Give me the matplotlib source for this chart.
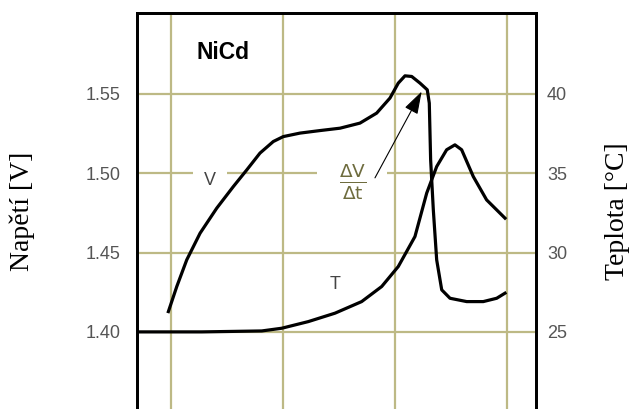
import numpy as np
import matplotlib.pyplot as plt

# napeti clanku (leva osa)
v_x = [0.979, 1.054, 1.143, 1.262, 1.411, 1.559, 1.679, 1.797, 1.916, 2.005,
       2.154, 2.333, 2.512, 2.690, 2.839, 2.958, 3.032, 3.092, 3.152, 3.226,
       3.291, 3.309, 3.321, 3.345, 3.375, 3.420, 3.494, 3.643, 3.791, 3.911,
       3.985]
v_y = [1.4128, 1.4286, 1.4454, 1.4622, 1.4780, 1.4916, 1.5021, 1.5127, 1.5200,
       1.5231, 1.5253, 1.5269, 1.5284, 1.5316, 1.5379, 1.5474, 1.5568, 1.5614,
       1.5610, 1.5568, 1.5526, 1.5442, 1.5085, 1.4769, 1.4454, 1.4265, 1.4212,
       1.4191, 1.4191, 1.4212, 1.4244]

# teplota (prava osa)
t_x = [0.70, 1.277, 1.813, 1.991, 2.229, 2.467, 2.705, 2.884, 3.032, 3.181,
       3.286, 3.375, 3.464, 3.538, 3.598, 3.702, 3.821, 3.985]
t_y = [25.0, 25.0, 25.06, 25.23, 25.65, 26.18, 26.91, 27.86, 29.12, 31.01,
       33.75, 35.42, 36.48, 36.79, 36.48, 34.79, 33.32, 32.17]

v_ticks = [1.40, 1.45, 1.50, 1.55]
t_ticks = [25, 30, 35, 40]
x_grid = [1, 2, 3, 4]

grid_col = "#bdb985"
tick_col = "#555555"

fig = plt.figure(figsize=(6.3, 4.09), dpi=100)
ax = fig.add_axes([0.2175, 0.0, 0.6333, 0.9682])
ax2 = ax.twinx()

ax.set_xlim(0.699, 4.262)
ax.set_ylim(1.3514, 1.601)
ax2.set_ylim(20.14, 45.1)

for x in x_grid:
    ax.axvline(x, color=grid_col, lw=1.6, zorder=0.5)
for y in v_ticks:
    ax.axhline(y, color=grid_col, lw=1.6, zorder=0.5)

ax.plot(v_x, v_y, color="black", lw=2.3, zorder=3, solid_joinstyle="round")
ax2.plot(t_x, t_y, color="black", lw=2.3, zorder=3, solid_joinstyle="round")

ax.set_xticks([])
ax.set_yticks(v_ticks)
ax.set_yticklabels(["%.2f" % v for v in v_ticks])
ax2.set_yticks(t_ticks)
for a in (ax, ax2):
    a.tick_params(axis="y", length=0, labelsize=13, labelcolor=tick_col)
    a.spines["bottom"].set_visible(False)
    for s in ("left", "right", "top"):
        a.spines[s].set_linewidth(2.0)
    for lab in a.get_yticklabels():
        lab.set_family("Liberation Sans")
ax.tick_params(axis="y", pad=12)
ax2.tick_params(axis="y", pad=8)

ax.set_ylabel("Napětí [V]", family="Liberation Serif", fontsize=20, labelpad=36)
ax2.set_ylabel("Teplota [°C]", family="Liberation Serif", fontsize=20,
               rotation=90, labelpad=27)

ax.text(0.2155, 0.90, "NiCd", transform=ax.transAxes, fontsize=16.5,
        fontweight="bold", family="Liberation Sans", ha="center", va="center")
ax.text(1.35, 1.4956, "V", fontsize=13, color="#444444", ha="center",
        va="center", family="Liberation Sans", zorder=1,
        bbox=dict(boxstyle="square,pad=0.6", fc="white", ec="none"))
ax2.text(2.47, 27.96, "T", fontsize=13, color="#444444", ha="center",
         va="center", family="Liberation Sans", zorder=1)
ax.text(2.62, 1.4943, r"$\frac{\mathrm{\Delta V}}{\mathrm{\Delta t}}$",
        fontsize=19, color="#6e6c3e", ha="center", va="center", zorder=1,
        bbox=dict(boxstyle="square,pad=0.8", fc="white", ec="none"))
ax.annotate("", xy=(3.241, 1.5515), xytext=(2.824, 1.4971),
            arrowprops=dict(arrowstyle="-|>,head_length=1.4,head_width=0.45",
                            color="black", lw=0.8, shrinkA=0, shrinkB=0),
            zorder=4)

fig.savefig("out.png", dpi=100)
